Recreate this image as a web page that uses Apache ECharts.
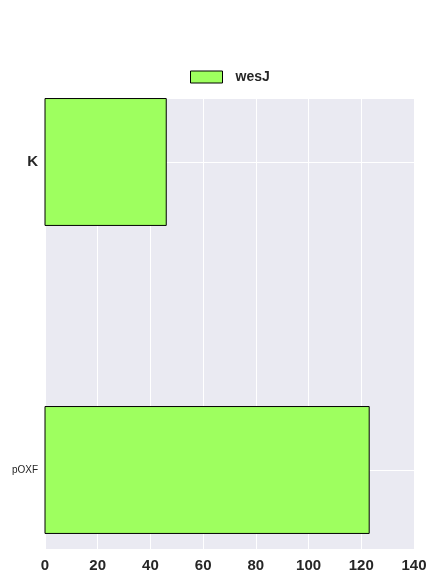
<!DOCTYPE html>
<html><head><meta charset="utf-8">
<script src="https://cdn.jsdelivr.net/npm/echarts@6/dist/echarts.min.js"></script>
<style>html,body{margin:0;padding:0;background:#fff}#c{width:438px;height:584px}</style>
</head><body><div id="c"></div>
<script>
const categories = ['pOXF', 'K'];
const seriesName = 'wesJ';
const values = [123, 46];
const xTicks = [0, 20, 40, 60, 80, 100, 120, 140];

const catPos = categories.map((c, i) => i);
const data = values.map((v, i) => [v, catPos[i]]);
const BAR_H = 0.412;

const chart = echarts.init(document.getElementById('c'), null, {renderer: 'canvas'});
chart.setOption({
  animation: false,
  backgroundColor: '#ffffff',
  legend: {
    left: 190, top: 70, padding: 0,
    itemWidth: 32, itemHeight: 12,
    icon: 'rect',
    data: [{name: seriesName, itemStyle: {color: '#9eff5f', borderColor: '#000', borderWidth: 1}}],
    textStyle: {fontFamily: 'Liberation Sans, Arial, sans-serif', fontWeight: 'bold', fontSize: 14, color: '#262626', padding: [0, 0, 0, 8]}
  },
  grid: {left: 45, right: 24, top: 99, bottom: 35, show: true, backgroundColor: '#eaeaf2', borderWidth: 0},
  xAxis: {
    type: 'value', min: xTicks[0], max: xTicks[xTicks.length - 1], interval: 20,
    axisLine: {show: false}, axisTick: {show: false},
    splitLine: {show: true, lineStyle: {color: '#ffffff', width: 1}},
    axisLabel: {margin: 9, fontFamily: 'Liberation Sans, Arial, sans-serif', fontWeight: 'bold', fontSize: 15, color: '#262626'}
  },
  yAxis: {
    type: 'value', min: -0.2565, max: 1.2045,
    axisLine: {show: false},
    axisTick: {show: false, customValues: catPos},
    splitLine: {show: true, lineStyle: {color: '#ffffff', width: 1}},
    axisLabel: {
      customValues: catPos, margin: 7,
      formatter: v => { const c = categories[Math.round(v)]; return c === 'K' ? '{b|' + c + '}' : '{n|' + c + '}'; },
      rich: {
        b: {fontFamily: 'Liberation Sans, Arial, sans-serif', fontWeight: 'bold', fontSize: 15, color: '#262626'},
        n: {fontFamily: 'Liberation Sans, Arial, sans-serif', fontSize: 10, color: '#262626'}
      }
    }
  },
  series: [{
    type: 'custom', name: seriesName,
    itemStyle: {color: '#9eff5f'},
    encode: {x: 0, y: 1},
    renderItem: function (params, api) {
      const v = api.value(0), y = api.value(1);
      const s = api.coord([0, y]);
      const e = api.coord([v, y]);
      const h = api.size([0, BAR_H])[1];
      return {type: 'rect', shape: {x: s[0], y: s[1] - h / 2, width: e[0] - s[0], height: h},
        style: {fill: '#9eff5f', stroke: '#000', lineWidth: 1}};
    },
    data: data
  }]
});
</script></body></html>
